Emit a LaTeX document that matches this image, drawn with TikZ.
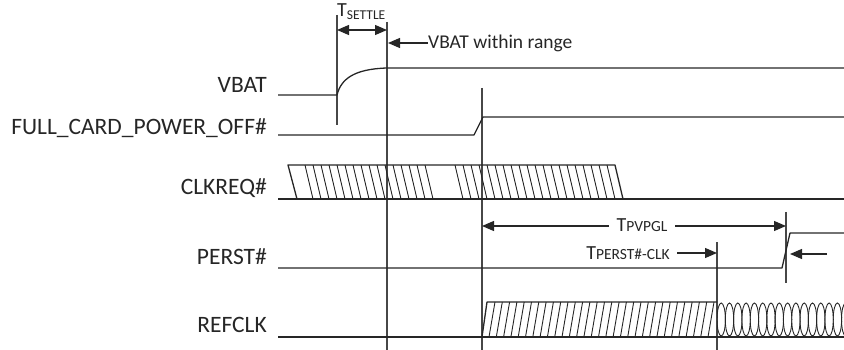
\documentclass[tikz,border=0pt]{standalone}
\usepackage{fontspec}
\setmainfont{Carlito}
\usetikzlibrary{arrows.meta}
\definecolor{ink}{HTML}{262626}
\tikzset{
  sig/.style={line width=1.3pt, draw=ink, line join=round},
  vline/.style={line width=1.3pt, draw=ink!85},
  hatch/.style={line width=0.9pt, draw=ink},
  arr/.style={line width=1.3pt, draw=ink, -{Triangle[length=12pt,width=10pt]}},
  dblarr/.style={line width=1.3pt, draw=ink, {Triangle[length=12pt,width=10pt]}-{Triangle[length=12pt,width=10pt]}},
  lbl/.style={font=\fontsize{23.5}{26}\selectfont, text=ink, anchor=east, inner sep=0pt},
  tlbl/.style={font=\fontsize{20}{22}\selectfont, text=ink, inner sep=1pt}
}
\newcommand{\smallsub}[1]{{\fontsize{15.5}{16}\selectfont #1}}
\begin{document}
\begin{tikzpicture}[x=1pt,y=-1pt]
\useasboundingbox (0,0) rectangle (844,350);
% signal labels
\node[lbl] (lvbat) at (267,85) {VBAT};
\node[lbl] (lfull) at (267,128) {FULL\_CARD\_POWER\_OFF\#};
\node[lbl] (lclk) at (267,188) {CLKREQ\#};
\node[lbl] (lperst) at (267,257) {PERST\#};
\node[lbl] (lref) at (267,325) {REFCLK};

% vertical reference lines
\draw[vline] (337,15) -- (337,125);
\draw[vline] (387,22) -- (387,350);
\draw[vline] (482,88) -- (482,350);
\draw[vline] (717,242) -- (717,350);
\draw[vline] (786,212) -- (786,283);

% VBAT
\draw[sig] (278,95) -- (337,95) .. controls (341,79) and (354,69) .. (387,68) -- (844,68);
% FULL_CARD_POWER_OFF#
\draw[sig] (278,135) -- (474,135) -- (483,117) -- (844,117);
% CLKREQ#
\draw[sig] (278,199) -- (844,199);
\draw[sig] (297,199) -- (288,165) -- (615,165) -- (623,199);
\foreach \x in {305,313,...,425} \draw[hatch] (\x,165) -- ++(8,34);
\foreach \x in {455,463,...,607} \draw[hatch] (\x,165) -- ++(8,34);
% PERST#
\draw[sig] (278,268) -- (782,268) -- (790,233) -- (844,233);
% REFCLK
\draw[sig] (278,337) -- (844,337);
\draw[sig] (482,337) -- (487,302) -- (717,302);
\foreach \x in {489,496.3,...,711} \draw[hatch] (\x,337) -- ++(6,-35);
\begin{scope}
\clip (717,298) rectangle (844,340);
\foreach \k in {0,...,16} \draw[hatch] (721.2+8.3*\k,319.5) ellipse [x radius=4.2pt, y radius=16.5pt];
\end{scope}

% TSETTLE
\coordinate (ts1) at (337,30);
\coordinate (ts2) at (387,30);
\draw[dblarr] (ts1) -- (ts2);
\node[tlbl, anchor=base west] (tsettle) at (336,17) {T\raisebox{-3pt}{\fontsize{13.5}{15}\selectfont SETTLE}};
% VBAT within range
\node[font=\fontsize{19.5}{21}\selectfont, text=ink, anchor=west, inner sep=0pt] (vwr) at (428,43) {VBAT within range};
\coordinate (vwrtip) at (388,43);
\draw[arr] (vwr.west) -- (vwrtip);

% TPVPGL
\coordinate (pv1) at (482,226);
\coordinate (pv2) at (786,226);
\draw[dblarr] (pv1) -- (pv2);
\node[tlbl, fill=white, inner xsep=8pt, anchor=base] (tpvpgl) at (642,231) {T\smallsub{PVPGL}};
% TPERST#-CLK
\node[tlbl, anchor=base east] (tperst) at (671,259) {T\smallsub{PERST\#-CLK}};
\coordinate (pcend) at (717,253);
\draw[arr] (677,253) -- (pcend);
\coordinate (prt) at (790,254);
\draw[arr] (827,254) -- (prt);
\end{tikzpicture}
\end{document}
